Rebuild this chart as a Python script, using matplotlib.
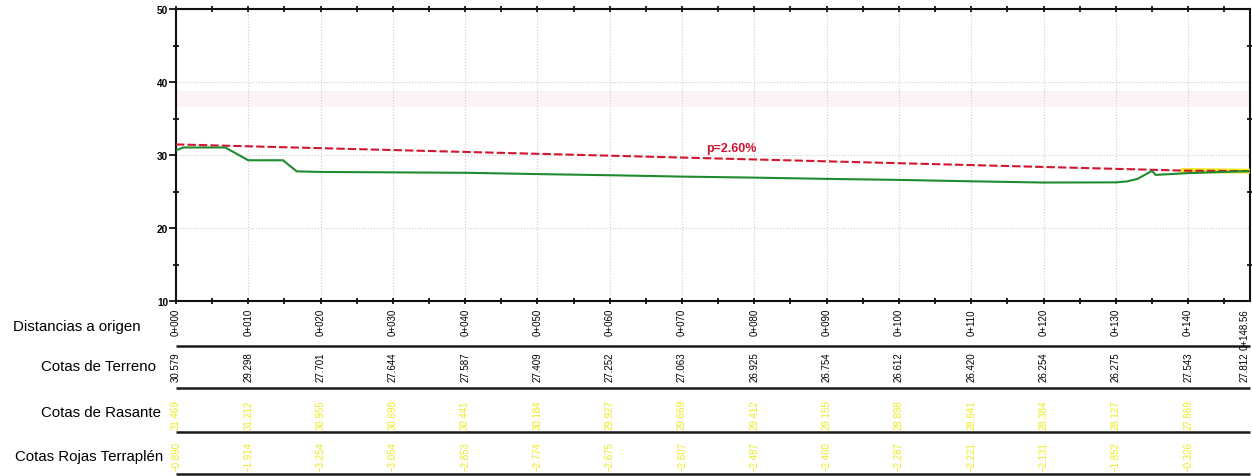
import numpy as np
import matplotlib
matplotlib.use('Agg')
import matplotlib.pyplot as plt

estaciones = [0, 10, 20, 30, 40, 50, 60, 70, 80, 90, 100, 110, 120, 130, 140, 148.56]
etiquetas = ['0+000', '0+010', '0+020', '0+030', '0+040', '0+050', '0+060', '0+070',
             '0+080', '0+090', '0+100', '0+110', '0+120', '0+130', '0+140', '0+148.56']
cotas_terreno = [30.579, 29.298, 27.701, 27.644, 27.587, 27.409, 27.252, 27.063,
                 26.925, 26.754, 26.612, 26.420, 26.254, 26.275, 27.543, 27.812]
cotas_rasante = [31.469, 31.212, 30.955, 30.698, 30.441, 30.184, 29.927, 29.669,
                 29.412, 29.155, 28.898, 28.641, 28.384, 28.127, 27.869]
cotas_rojas = [-0.890, -1.914, -3.254, -3.054, -2.853, -2.774, -2.675, -2.607,
               -2.487, -2.400, -2.287, -2.221, -2.131, -1.852, -0.326]

# linea de terreno con algo mas de detalle que las estaciones
perfil_x = [0, 1.0, 6.8, 10, 14.8, 16.7, 20, 30, 40, 50, 60, 70, 80, 90, 100,
            110, 120, 130, 131.5, 133, 135, 135.5, 140, 148.56]
perfil_z = [30.65, 31.05, 31.05, 29.298, 29.3, 27.78, 27.701, 27.644, 27.587, 27.409,
            27.252, 27.063, 26.925, 26.754, 26.612, 26.420, 26.254, 26.275, 26.4,
            26.75, 27.85, 27.3, 27.543, 27.812]

# rasante (se cierra sobre el terreno al final)
rasante_x = estaciones
rasante_z = cotas_rasante + [27.812]

# tramo amarillo al final de la rasante
amarillo_x = [139.0, 148.56]
amarillo_z = [27.90, 27.812]

pendiente = 'p=2.60%'

ROJO = '#d3152f'
VERDE = '#1f8a2e'
AMARILLO = '#eeea1c'
fuente = 'Liberation Sans'
fs_guitarra = 7.0

W, H = 1252, 477
fig = plt.figure(figsize=(W / 100, H / 100), dpi=100)
L, R = 176 / W, 1250 / W
T, B = 1 - 10 / H, 1 - 302.3 / H
ax = fig.add_axes([L, B, R - L, T - B])
x_fin = estaciones[-1]
ax.set_xlim(0, x_fin)
ax.set_ylim(10, 50)

ax.axhspan(36.6, 38.8, color='#fdf3f6', lw=0, zorder=0)

ax.plot(amarillo_x, amarillo_z, color=AMARILLO, lw=3.5, solid_capstyle='butt', zorder=3)
ax.plot(rasante_x, rasante_z, color=ROJO, lw=1.5, dashes=(4, 1.5), zorder=4)
ax.plot(perfil_x, perfil_z, color=VERDE, lw=1.5, zorder=5)
ax.text(76.8, 31.0, pendiente, color='#cc1530', fontsize=9, fontweight='bold',
        family=fuente, ha='center', va='center', zorder=6)

# ticks y rejilla
ax.set_xticks(np.arange(0, 141, 10))
ax.set_xticks(np.arange(5, 146, 10), minor=True)
ax.set_yticks([10, 20, 30, 40, 50])
ax.set_yticks([15, 25, 35, 45], minor=True)
ax.grid(which='major', color='#cccccc', linestyle=':', linewidth=0.8)
ax.set_axisbelow(True)

ax.tick_params(axis='x', which='both', top=True, bottom=True, direction='inout',
               length=5, width=1.2, labelbottom=False)
ax.tick_params(axis='y', which='major', left=True, right=False, direction='out',
               length=5, width=1.2, labelsize=7.2, pad=0.5)
ax.tick_params(axis='y', which='minor', left=True, right=True, direction='inout',
               length=5, width=1.2)
for lab in ax.get_yticklabels():
    lab.set_fontweight('bold')
    lab.set_family(fuente)

for t in ax.xaxis.get_major_ticks():
    t.tick1line.set_color(AMARILLO)
    t.tick2line.set_color('black')
for t in ax.xaxis.get_minor_ticks():
    t.tick1line.set_color(ROJO)
    t.tick2line.set_color('black')
for t, v in zip(ax.yaxis.get_major_ticks(), [10, 20, 30, 40, 50]):
    t.tick1line.set_color(AMARILLO if v <= 30 else 'black')
for t, v in zip(ax.yaxis.get_minor_ticks(), [15, 25, 35, 45]):
    t.tick1line.set_color(ROJO if v < 45 else 'black')
    t.tick2line.set_color(ROJO)

for s in ax.spines.values():
    s.set_linewidth(1.5)
    s.set_color('#111111')

# guitarra de datos bajo el perfil (y en pixeles)
ax_t = fig.add_axes([L, 0, R - L, B])
ax_t.set_xlim(0, x_fin)
ax_t.set_ylim(H, 302.3)
ax_t.axis('off')

# la ultima columna se corre un poco a la izquierda para que quepa
pos_txt = [x if x < x_fin else x - 0.8 for x in estaciones]

for x, s in zip(pos_txt, etiquetas):
    ax_t.text(x, 309, s, rotation=90, ha='center', va='top', fontsize=fs_guitarra,
              family=fuente, clip_on=False)
for x, v in zip(pos_txt, cotas_terreno):
    ax_t.text(x, 367, f'{v:.3f}', rotation=90, ha='center', va='center',
              fontsize=fs_guitarra, family=fuente, clip_on=False)
for x, v in zip(pos_txt, cotas_rasante):
    ax_t.text(x, 415, f'{v:.3f}', rotation=90, ha='center', va='center',
              fontsize=fs_guitarra, family=fuente, color=AMARILLO, clip_on=False)
for x, v in zip(pos_txt, cotas_rojas):
    ax_t.text(x, 457, f'{v:.3f}'.replace('-', '\u2212'), rotation=90, ha='center',
              va='center', fontsize=fs_guitarra, family=fuente, color=AMARILLO,
              clip_on=False)

ax_t.hlines([346.7, 389, 432.7, 474.5], 0, x_fin, color='#1a1a1a', lw=1.8, clip_on=False)

filas = [('Distancias a origen', 12.7, 331),
         ('Cotas de Terreno', 41, 371),
         ('Cotas de Rasante', 40.7, 417.5),
         ('Cotas Rojas Terraplén', 15, 461)]
for texto, px, py in filas:
    fig.text(px / W, 1 - py / H, texto, fontsize=10.8, family=fuente,
             ha='left', va='baseline')

fig.savefig('out.png', dpi=100)
